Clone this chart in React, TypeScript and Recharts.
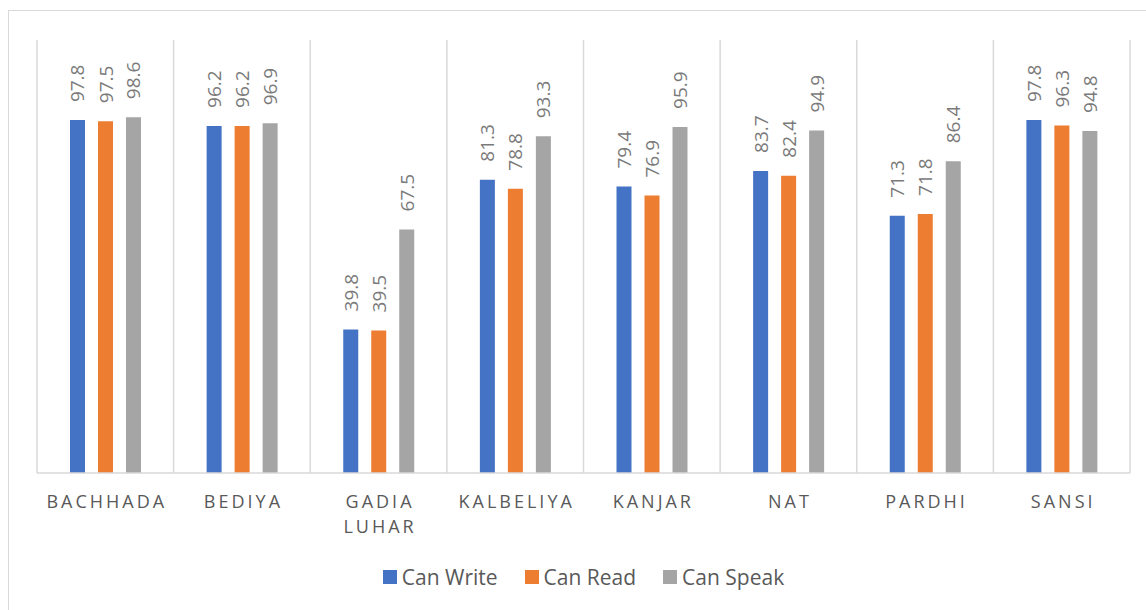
// Literacy by community: grouped bars with rotated value labels
import { BarChart, Bar, XAxis, YAxis, CartesianGrid, Legend, LabelList } from 'recharts';

const categories = ['BACHHADA', 'BEDIYA', 'GADIA LUHAR', 'KALBELIYA', 'KANJAR', 'NAT', 'PARDHI', 'SANSI'];
const canWrite = [97.8, 96.2, 39.8, 81.3, 79.4, 83.7, 71.3, 97.8];
const canRead = [97.5, 96.2, 39.5, 78.8, 76.9, 82.4, 71.8, 96.3];
const canSpeak = [98.6, 96.9, 67.5, 93.3, 95.9, 94.9, 86.4, 94.8];

const series = [
  { key: 'write', name: 'Can Write', color: '#4472C4' },
  { key: 'read', name: 'Can Read', color: '#ED7D31' },
  { key: 'speak', name: 'Can Speak', color: '#A5A5A5' },
];

const data = categories.map((name, i) => ({
  name,
  write: canWrite[i],
  read: canRead[i],
  speak: canSpeak[i],
}));

const FONT = '"Open Sans", "Liberation Sans", sans-serif';
const TEXT = '#595959';

function CategoryTick({ x, y, payload }: any) {
  const lines = String(payload.value).split(' ');
  return (
    <g>
      {lines.map((line, i) => (
        <text
          key={i}
          x={x + 1.5}
          y={y + 20 + i * 25}
          textAnchor="middle"
          dominantBaseline="central"
          fill={TEXT}
          fontFamily={FONT}
          fontSize={18}
          style={{ letterSpacing: 3 }}
        >
          {line}
        </text>
      ))}
    </g>
  );
}

function ValueLabel({ x, y, width, value }: any) {
  const cx = x + width / 2;
  const ty = y - 18;
  return (
    <text
      x={cx}
      y={ty}
      transform={`rotate(-90, ${cx}, ${ty})`}
      textAnchor="start"
      dominantBaseline="central"
      fill="#7a7a7a"
      fontFamily={FONT}
      fontSize={19}
    >
      {value}
    </text>
  );
}

function LegendBox() {
  return (
    <div style={{ display: 'flex', justifyContent: 'center', gap: 27, fontFamily: FONT, fontSize: 21, color: TEXT }}>
      {series.map((s) => (
        <div key={s.key} style={{ display: 'flex', alignItems: 'center', gap: 5 }}>
          <span style={{ width: 14, height: 14, background: s.color, display: 'inline-block' }} />
          <span>{s.name}</span>
        </div>
      ))}
    </div>
  );
}

export default function App() {
  return (
    <div style={{ position: 'absolute', left: 0, top: 0, width: 1146, height: 610, overflow: 'hidden', background: '#fff' }}>
      <div style={{ position: 'absolute', left: 8, top: 10, width: 1150, height: 620, border: '1px solid #d9d9d9' }}>
        <BarChart
          width={1138}
          height={600}
          data={data}
          margin={{ top: 29, right: 17, left: 28, bottom: 40 }}
          barSize={15}
          barGap={13}
        >
          <CartesianGrid
            horizontal={false}
            stroke="#d9d9d9"
            strokeWidth={1.5}
            verticalCoordinatesGenerator={({ offset }: any) =>
              Array.from({ length: categories.length + 1 }, (_, i) => offset.left + (i * offset.width) / categories.length)
            }
          />
          <XAxis
            dataKey="name"
            tickLine={false}
            axisLine={{ stroke: '#d9d9d9', strokeWidth: 1.5 }}
            tick={<CategoryTick />}
            interval={0}
            height={70}
          />
          <YAxis hide domain={[0, 120]} />
          <Legend verticalAlign="bottom" content={<LegendBox />} wrapperStyle={{ bottom: 20 }} />
          {series.map((s) => (
            <Bar key={s.key} dataKey={s.key} name={s.name} fill={s.color} isAnimationActive={false}>
              <LabelList dataKey={s.key} content={<ValueLabel />} />
            </Bar>
          ))}
        </BarChart>
      </div>
    </div>
  );
}
